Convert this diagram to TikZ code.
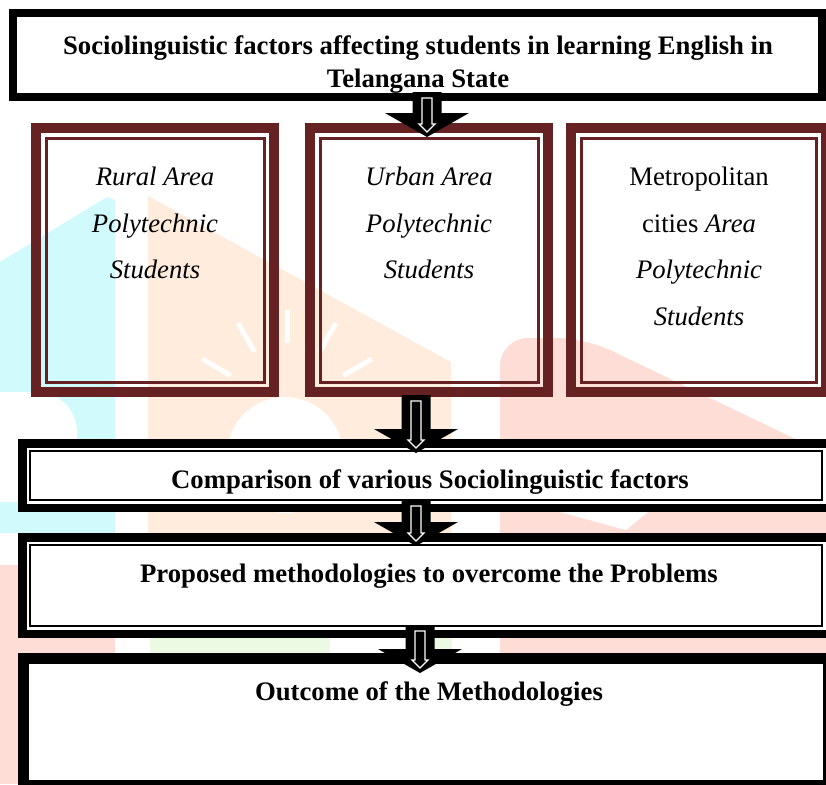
\documentclass[tikz,border=0pt]{standalone}
\usepackage{fontspec}
\setmainfont{Liberation Serif}
\usetikzlibrary{calc}

\definecolor{boxred}{RGB}{102,34,34}
\definecolor{wmcyan}{RGB}{208,250,252}
\definecolor{wmpeach}{RGB}{255,236,220}
\definecolor{wmpink}{RGB}{255,221,215}
\definecolor{wmgreen}{RGB}{236,250,228}
\def\fsz{26.7}

% block arrow: #1 top of the shaft, #2 the tip
\newcommand\blockarrow[2]{%
  \fill[black] let \p1=(#1), \p2=(#2) in
    (\x2-14.5pt,\y1)--(\x2+14.5pt,\y1)--(\x2+14.5pt,\y2+24pt)
    --(\x2+42pt,\y2+24pt)--(\x2,\y2)--(\x2-42pt,\y2+24pt)
    --(\x2-14.5pt,\y2+24pt)--cycle;
  \draw[white,line width=1.3pt] let \p1=(#1), \p2=(#2) in
    (\x2-5pt,\y1-6pt)--(\x2+5pt,\y1-6pt)--(\x2+5pt,\y2+13pt)
    --(\x2+8pt,\y2+13pt)--(\x2,\y2+5pt)--(\x2-8pt,\y2+13pt)
    --(\x2-5pt,\y2+13pt)--cycle;}

\begin{document}
\begin{tikzpicture}[
  x=1pt,y=-1pt,
  plainbox/.style={draw=black,fill=white,line width=8pt,inner sep=0pt,outer sep=0pt},
  areabox/.style={draw=boxred,line width=10pt,inner sep=0pt,outer sep=0pt},
  stagebox/.style={draw=black,fill=white,line width=8.5pt,inner sep=0pt,outer sep=0pt},
  headtext/.style={font=\bfseries\fontsize{\fsz}{33}\selectfont,align=center,inner sep=0pt},
  areatext/.style={font=\itshape\fontsize{\fsz}{46.5}\selectfont,align=center,inner sep=0pt}]
  \useasboundingbox (0,0) rectangle (826,784);
  \clip (0,0) rectangle (826,784);

% faded logo behind the chart
  \fill[wmcyan] (0,262)--(107,197)--(115,200)--(115,533)--(0,533)--cycle;
  \fill[white,rounded corners=40pt] (-60,392) rectangle (77,502);
  \fill[wmpink] (0,565) rectangle (115,784);
  \fill[wmpeach] (148,196)--(451,362)--(451,533)--(148,533)--cycle;
  \fill[white] (285,455) circle [radius=58pt];
  \foreach \a in {-30,-60,...,-150}
    \draw[white,line width=5pt] ($(287,408)+(\a:65)$)--($(287,408)+(\a:98)$);
  \fill[wmpink,rounded corners=28pt] (500,700)--(500,338)--(585,338)
    --(860,470)--(860,700)--cycle;
  \fill[white] (560,512)--(648,512)--(626,530)--cycle;
  \fill[wmgreen] (150,638) rectangle (330,653);
  \fill[wmgreen] (430,638) rectangle (452,653);

% Title
  \node[plainbox,minimum width=809pt,minimum height=84pt] (title) at (417.5,55) {};
  \node[headtext,anchor=north] (titletxt) at (418,35)
    {Sociolinguistic factors affecting students in learning English in\\Telangana State};

% The three groups of students
  \node[areabox,minimum width=238pt,minimum height=264pt] (rural) at (155,260) {};
  \node[areabox,minimum width=238pt,minimum height=264pt] (urban) at (429,260) {};
  \node[areabox,minimum width=255pt,minimum height=264pt] (metro) at (698.5,260) {};
  \foreach \b in {rural,urban,metro}
    \draw[boxred,line width=3pt] ($(\b.north west)+(10,10)$) rectangle ($(\b.south east)+(-10,-10)$);
  \node[areatext,anchor=north] (ruraltxt) at (155,167) {Rural Area\\Polytechnic\\Students};
  \node[areatext,anchor=north] (urbantxt) at (429,167) {Urban Area\\Polytechnic\\Students};
  \node[areatext,anchor=north] (metrotxt) at (699,167)
    {\upshape Metropolitan\\\upshape cities \itshape Area\\Polytechnic\\Students};

% Lower stages
  \node[stagebox,minimum width=807.5pt,minimum height=64.5pt] (compare) at (426,475.5) {};
  \node[stagebox,minimum width=807.5pt,minimum height=96.5pt] (propose) at (426,585.5) {};
  \node[plainbox,line width=11pt,minimum width=805pt,minimum height=127pt] (outcome) at (426,722) {};
  \foreach \b in {compare,propose}
    \draw[line width=2pt] ($(\b.north west)+(7.75,7.75)$) rectangle ($(\b.south east)+(-7.75,-7.75)$);
  \node[headtext,anchor=base] (comparetxt) at (430,488) {Comparison of various Sociolinguistic factors};
  \node[headtext,anchor=base] (proposetxt) at (429,582) {Proposed methodologies to overcome the Problems};
  \node[headtext,anchor=base] (outcometxt) at (429,700) {Outcome of the Methodologies};

% Arrows
  \blockarrow{$(title.south -| urban.north)+(-2,-5)$}{$(urban.north)+(-2,9)$}
  \blockarrow{$(urban.south)+(-13,3)$}{$(compare.north)+(-10,9.75)$}
  \blockarrow{$(compare.south)+(-10,-7.75)$}{$(propose.north)+(-10,8.75)$}
  \blockarrow{$(propose.south)+(-6,-8.75)$}{$(outcome.north)+(-6,14.5)$}
\end{tikzpicture}
\end{document}
